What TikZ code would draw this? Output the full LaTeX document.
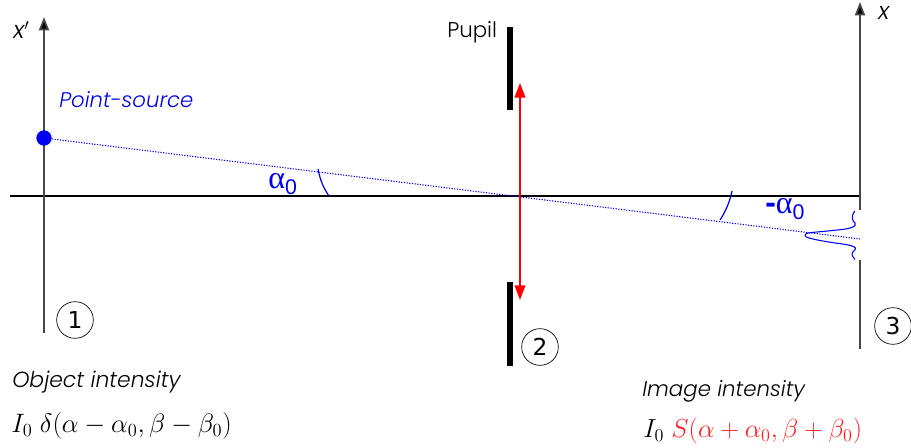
\documentclass[tikz,border=0pt]{standalone}
\usepackage{fontspec}
\setmainfont{Poppins}[UprightFont=*-Light,ItalicFont=*-LightItalic]
\newfontfamily\greekfont{Liberation Serif}
\newfontfamily\subfont{Liberation Sans}
\newfontfamily\numfont{DejaVu Sans}
\usetikzlibrary{arrows.meta}
\definecolor{bluey}{RGB}{0,0,240}
\definecolor{redy}{RGB}{255,30,30}
\tikzset{
 axisline/.style={draw=black!72,line width=1.3pt},
 tiparrow/.style={-{Triangle[length=10pt,width=7.5pt,fill=black]}},
 pupilbar/.style={draw=black,line width=3.8pt},
 numcircle/.style={circle,draw=black,line width=0.5pt,minimum size=27.5pt,inner sep=0pt,font=\numfont\fontsize{17.5}{18}\selectfont},
 blueline/.style={draw=bluey,line width=0.9pt},
 lab/.style={inner sep=0pt,anchor=west}
}
\begin{document}
\begin{tikzpicture}[x=0.75pt,y=-0.75pt]
\useasboundingbox (0,0) rectangle (911,448);
% coordinates
\coordinate (hl) at (10,196);
\coordinate (hr) at (860,196);
\coordinate (lt) at (44,17);
\coordinate (lb) at (44,333);
\coordinate (rt) at (860,2);
\coordinate (rg1) at (860,210);
\coordinate (rg2) at (860,260);
\coordinate (rb) at (860,349);
\coordinate (src) at (44,138);
\coordinate (img) at (860,239);
% axes
\draw[draw=black,line width=0.9pt] (hl) -- (hr);
\draw[axisline,tiparrow] (lb) -- (lt);
\draw[axisline,tiparrow] (rg1) -- (rt);
\draw[axisline] (rg2) -- (rb);
% pupil
\coordinate (p1) at (510,27); \coordinate (p2) at (510,110);
\coordinate (p3) at (510,282); \coordinate (p4) at (510,366);
\draw[pupilbar] (p1) -- (p2);
\draw[pupilbar] (p3) -- (p4);
% lens
\coordinate (la) at (520,83); \coordinate (lc) at (520,300);
\draw[draw=red,line width=1.3pt,{Triangle[length=11pt,width=8pt]}-{Triangle[length=11pt,width=8pt]}] (la) -- (lc);
% ray
\draw[bluey,line width=0.8pt,dash pattern=on 0.9pt off 1.1pt] (src) -- (img);
\node[circle,fill=bluey,minimum size=11.5pt,inner sep=0pt] (dot) at (src) {};
% angle arcs
\coordinate (a1) at (318,169); \coordinate (a2) at (329,196);
\coordinate (b1) at (732,191); \coordinate (b2) at (720,220);
\draw[blueline] (a1) .. controls (320,180) and (324,189) .. (a2);
\draw[blueline] (b1) .. controls (730,201) and (726,211) .. (b2);
% intensity profile
\coordinate (c1) at (854.7,211); \coordinate (c2) at (855,259.5);
\draw[blueline,line width=0.8pt] (c1) .. controls (851,216) and (852,221) .. (855,223)
  .. controls (857,227) and (850,228) .. (846,229)
  .. controls (830,231) and (815,232) .. (808,233)
  .. controls (804,234) and (804,237) .. (809,238)
  .. controls (820,241) and (835,243) .. (846,244.5)
  .. controls (853,246) and (857,247) .. (855,250)
  .. controls (851,253) and (851,255) .. (c2);
% labels
\node[lab,font=\fontsize{18}{18}\selectfont] (xp) at (13,30) {$\mathit{x'}$};
\node[lab,font=\fontsize{18}{18}\selectfont] (xl) at (878,13) {$\mathit{x}$};
\node[lab,font=\fontsize{15.9}{16}\selectfont\itshape,text=bluey] (ps) at (59,99.5) {Point-source};
\node[lab,font=\fontsize{16}{16}\selectfont] (pl) at (447,32.5) {Pupil};
\node[lab,font=\fontsize{24}{24}\selectfont,text=bluey] (al) at (268,184) {{\greekfont α}\raisebox{-4pt}{\subfont\fontsize{16}{16}\selectfont 0}};
\node[lab,font=\fontsize{24}{24}\selectfont,text=bluey] (ar) at (765,209) {{\subfont\bfseries -}{\greekfont α}\raisebox{-4pt}{\subfont\fontsize{16}{16}\selectfont 0}};
\node[numcircle] (n1) at (75,320) {1};
\node[numcircle] (n2) at (540,347) {2};
\node[numcircle] (n3) at (893,326) {3};
\node[lab,font=\fontsize{16.4}{16}\selectfont\itshape] (oi) at (12,382) {Object intensity};
\node[lab,font=\fontsize{16}{16}\selectfont\itshape] (ii) at (642,391) {Image intensity};
\node[lab,font=\fontsize{17.28}{20}\selectfont] (oe) at (11,425.5) {\scalebox{1.155}{$I_0\;\delta(\alpha-\alpha_0,\beta-\beta_0)$}};
\node[lab,font=\fontsize{17.28}{20}\selectfont] (ie) at (643,431) {\scalebox{1.135}{$I_0\;\textcolor{redy}{S(\alpha+\alpha_0,\beta+\beta_0)}$}};
\end{tikzpicture}
\end{document}
